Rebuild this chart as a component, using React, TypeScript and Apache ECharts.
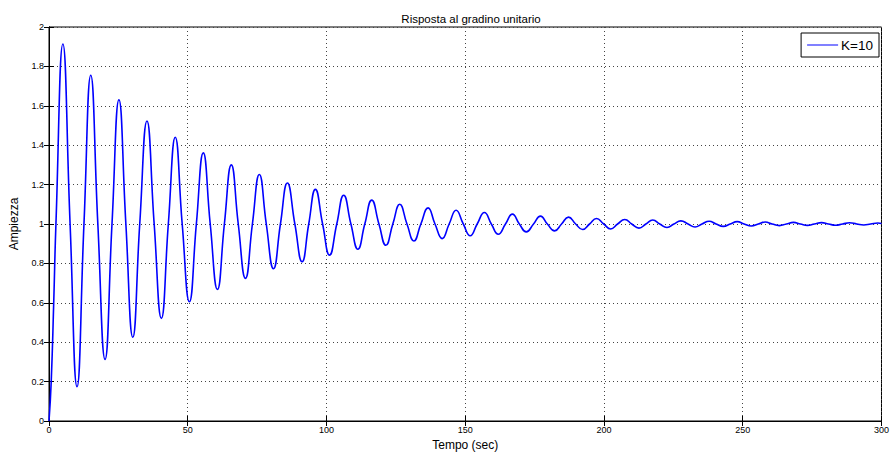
import React, { useEffect, useRef } from "react";
import * as echarts from "echarts";

// Extrema and crossings of the step response (time in sec)
const time = [
  0, 0.8, 1.7, 2.5, 5.0, 7.6, 10.1, 12.6, 15.05, 17.6, 20.2, 22.7, 25.2, 27.7, 30.2, 32.7,
  35.3, 37.9, 40.5, 43.0, 45.5, 48.0, 50.6, 53.1, 55.6, 58.1, 60.7, 63.2, 65.7, 68.2,
  70.8, 73.3, 75.8, 78.3, 80.9, 83.4, 85.9, 88.6, 91.2, 93.6, 96.0, 98.6, 101.1, 103.7,
  106.2, 108.8, 111.3, 113.8, 116.3, 118.9, 121.4, 123.9, 126.4, 129.0, 131.5, 134.0,
  136.6, 139.1, 141.7, 144.2, 146.7, 149.3, 151.8, 154.3, 156.9, 159.4, 161.9, 164.5,
  167.0, 169.5, 172.0, 174.6, 177.1, 179.6, 182.2, 184.7, 187.2, 189.8, 192.3, 194.8,
  197.3, 199.9, 202.4, 204.9, 207.5, 210.0, 212.6, 215.1, 217.6, 220.1, 222.7, 225.2,
  227.7, 230.3, 232.8, 235.3, 237.9, 240.4, 243.0, 245.5, 248.0, 250.5, 253.1, 255.6,
  258.1, 260.6, 263.2, 265.7, 268.3, 270.8, 273.3, 275.8, 278.4, 280.9, 283.5, 286.0,
  288.5, 291.1, 293.6, 296.1, 298.7, 300,
];
const amplitude = [
  0, 0.2, 0.6, 1, 1.914, 1, 0.174, 1, 1.755, 1, 0.313, 1, 1.631, 1, 0.425, 1,
  1.523, 1, 0.521, 1, 1.44, 1, 0.605, 1, 1.361, 1, 0.668, 1, 1.3, 1,
  0.724, 1, 1.251, 1, 0.773, 1, 1.208, 1, 0.808, 1, 1.176, 1, 0.842, 1,
  1.146, 1, 0.872, 1, 1.121, 1, 0.892, 1, 1.1, 1, 0.914, 1,
  1.082, 1, 0.926, 1, 1.07, 1, 0.94, 1, 1.058, 1, 0.948, 1,
  1.05, 1, 0.96, 1, 1.04, 1, 0.965, 1, 1.035, 1, 0.972, 1,
  1.028, 1, 0.975, 1, 1.023, 1, 0.979, 1, 1.02, 1, 0.982, 1,
  1.016, 1, 0.985, 1, 1.014, 1, 0.988, 1, 1.012, 1, 0.99, 1,
  1.01, 1, 0.992, 1, 1.008, 1, 0.993, 1, 1.007, 1, 0.994, 1,
  1.006, 1, 0.995, 1, 1.005, 1.003,
];

const seriesName = "K=10";
const titleText = "Risposta al gradino unitario";
const xName = "Tempo (sec)";
const yName = "Ampiezza";

const FONT = "Liberation Sans, Arial, Helvetica, sans-serif";

export default function App() {
  const ref = useRef<HTMLDivElement>(null);
  useEffect(() => {
    if (!ref.current) return;
    const chart = echarts.init(ref.current, undefined, { renderer: "svg" });
    const data = time.map((t, i) => [t, amplitude[i]]);
    const gridLine = { show: true, lineStyle: { color: "#444", type: [1, 3] as any, width: 1 } };
    const tickInside = { show: true, inside: true, length: 5, lineStyle: { color: "#000" } };
    chart.setOption({
      animation: false,
      backgroundColor: "#fff",
      title: {
        text: titleText,
        left: 466,
        textAlign: "center",
        top: 8,
        textStyle: { fontFamily: FONT, fontSize: 11.5, fontWeight: "normal", color: "#000" },
      },
      legend: {
        right: 13,
        top: 33,
        orient: "vertical",
        backgroundColor: "#fff",
        borderColor: "#000",
        borderWidth: 1,
        borderRadius: 0,
        padding: [5, 6, 5, 6],
        itemWidth: 31,
        itemHeight: 12,
        itemGap: 4,
        icon: "path://M0,6 L31,6 L31,7 L0,7 Z",
        textStyle: { fontFamily: FONT, fontSize: 13.5, color: "#000", padding: [0, 0, 0, -2] },
        data: [seriesName],
      },
      grid: {
        left: 46,
        right: 9,
        top: 27,
        bottom: 37,
        show: true,
        borderColor: "#000",
        borderWidth: 1,
      },
      xAxis: [
        {
          type: "value",
          min: 0,
          max: 300,
          interval: 50,
          name: xName,
          nameLocation: "middle",
          nameGap: 18,
          nameTextStyle: { fontFamily: FONT, fontSize: 12, color: "#000" },
          axisLine: { show: true, lineStyle: { color: "#000" } },
          axisTick: tickInside,
          axisLabel: { fontFamily: FONT, fontSize: 9, color: "#000", margin: 4 },
          splitLine: gridLine,
        },
        {
          type: "value",
          position: "top",
          min: 0,
          max: 300,
          interval: 50,
          axisLine: { show: true, lineStyle: { color: "#000" } },
          axisTick: tickInside,
          axisLabel: { show: false },
          splitLine: { show: false },
        },
      ],
      yAxis: [
        {
          type: "value",
          min: 0,
          max: 2,
          interval: 0.2,
          name: yName,
          nameLocation: "middle",
          nameGap: 29,
          nameTextStyle: { fontFamily: FONT, fontSize: 12, color: "#000" },
          axisLine: { show: true, lineStyle: { color: "#000" } },
          axisTick: tickInside,
          axisLabel: {
            fontFamily: FONT,
            fontSize: 9,
            color: "#000",
            margin: 5,
            formatter: (v: number) => String(Math.round(v * 10) / 10),
          },
          splitLine: gridLine,
        },
        {
          type: "value",
          position: "right",
          min: 0,
          max: 2,
          interval: 0.2,
          axisLine: { show: true, lineStyle: { color: "#000" } },
          axisTick: tickInside,
          axisLabel: { show: false },
          splitLine: { show: false },
        },
      ],
      series: [
        {
          name: seriesName,
          type: "line",
          data,
          smooth: 0.5,
          showSymbol: false,
          symbol: "none",
          lineStyle: { color: "#0000ff", width: 1.6 },
          itemStyle: { color: "#0000ff" },
          clip: true,
        },
      ],
    });
    return () => chart.dispose();
  }, []);
  return <div ref={ref} style={{ width: 892, height: 458, position: "absolute", left: 0, top: 0 }} />;
}
